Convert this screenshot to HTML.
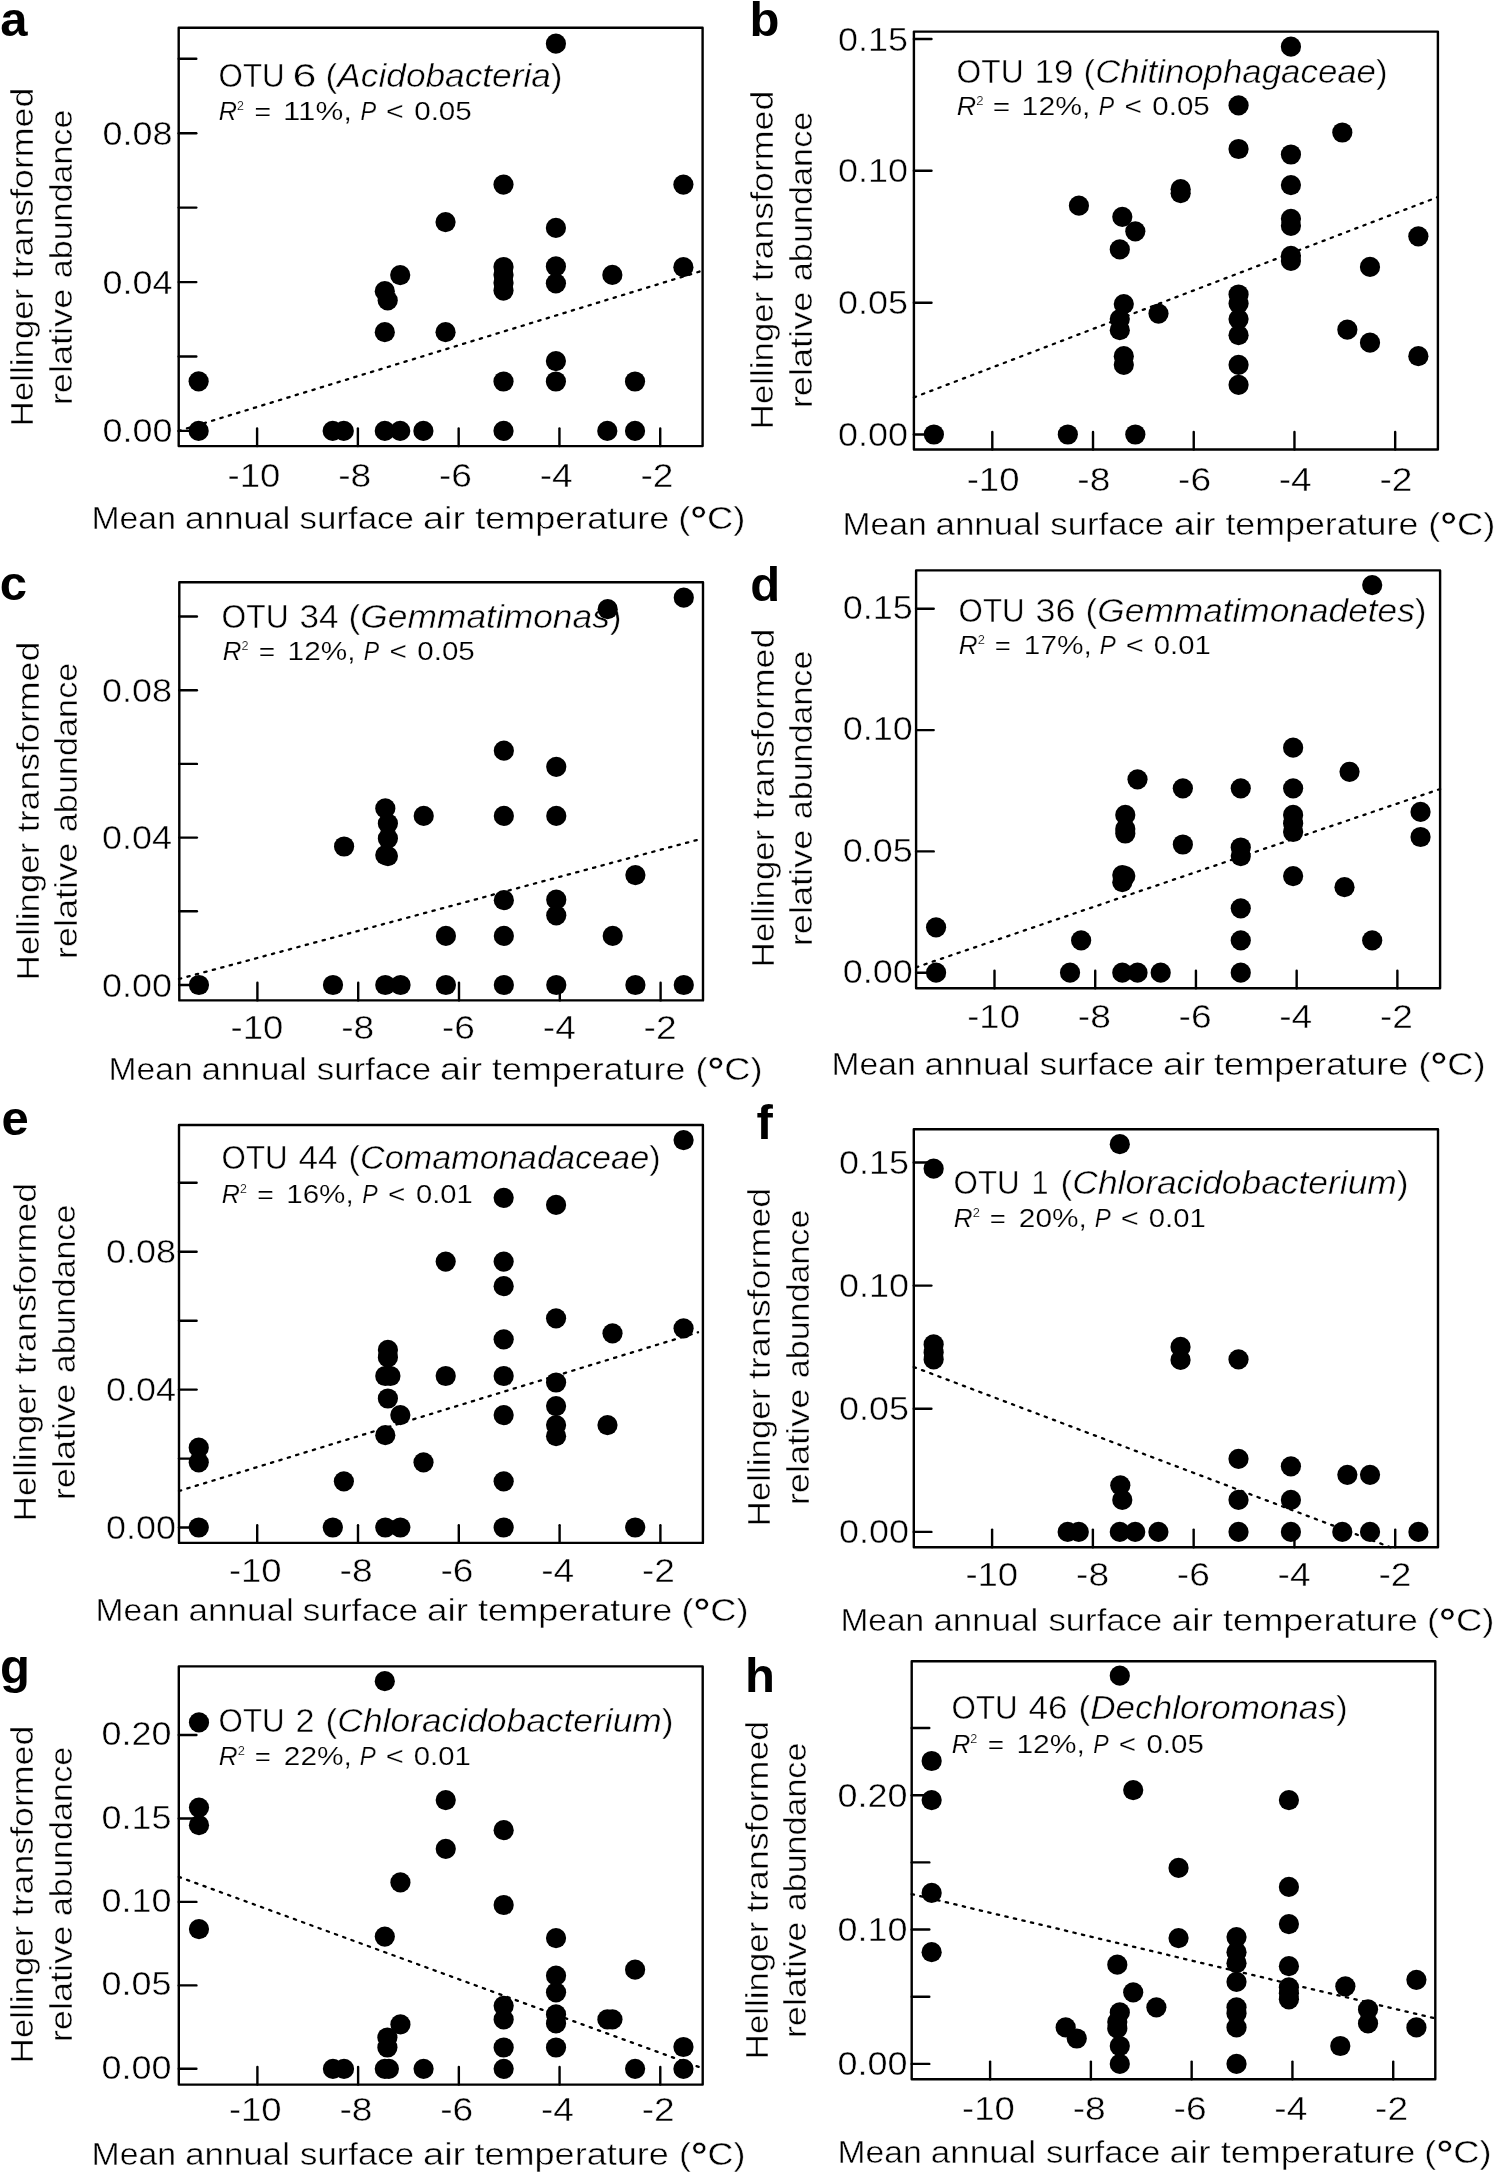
<!DOCTYPE html>
<html><head><meta charset="utf-8"><title>Figure</title>
<style>
html,body{margin:0;padding:0;background:#fff;-webkit-font-smoothing:antialiased;}
body{width:1495px;height:2172px;overflow:hidden;}
svg{display:block;will-change:transform;}
text{font-family:"Liberation Sans", sans-serif;fill:#000;stroke:#fff;stroke-width:0.45px;}
.ax{stroke:#000;stroke-width:2.4;fill:none;stroke-linejoin:round;stroke-linecap:round;}
.reg{stroke:#000;stroke-width:2.3;stroke-dasharray:2.3 6.45;stroke-linecap:round;fill:none;}
.tk{font-size:33.0px;}
.tt{font-size:32.5px;}
.st{font-size:25.4px;stroke-width:0.2px;}
.xl{font-size:32.0px;}
.yl{font-size:32.0px;}
.lt{font-size:49.0px;font-weight:bold;stroke:none;}
circle{fill:#000;}
</style></head>
<body><svg width="1495" height="2172" viewBox="0 0 1495 2172">
<rect x="0" y="0" width="1495" height="2172" fill="#fff"/>
<text x="218.6" y="87" class="tt" textLength="66" lengthAdjust="spacingAndGlyphs">OTU</text>
<text x="292.6" y="87" class="tt" textLength="24" lengthAdjust="spacingAndGlyphs">6</text>
<text x="325.6" y="87" class="tt" textLength="237" lengthAdjust="spacingAndGlyphs">(<tspan font-style="italic">Acidobacteria</tspan>)</text>
<text x="218.8" y="119.5" class="st" textLength="25.1" lengthAdjust="spacingAndGlyphs"><tspan font-style="italic">R</tspan><tspan font-size="12.5" dy="-9.5">2</tspan></text>
<text x="254.6" y="119.5" class="st" textLength="16.6" lengthAdjust="spacingAndGlyphs">=</text>
<text x="283" y="119.5" class="st" textLength="69" lengthAdjust="spacingAndGlyphs">11%,</text>
<text x="360.6" y="119.5" class="st" textLength="15.7" lengthAdjust="spacingAndGlyphs"><tspan font-style="italic">P</tspan></text>
<text x="385.9" y="119.5" class="st" textLength="17.7" lengthAdjust="spacingAndGlyphs">&lt;</text>
<text x="414.2" y="119.5" class="st" textLength="57.6" lengthAdjust="spacingAndGlyphs">0.05</text>
<text x="91.5" y="529.1" class="xl" textLength="84.4" lengthAdjust="spacingAndGlyphs">Mean</text>
<text x="184.9" y="529.1" class="xl" textLength="105.5" lengthAdjust="spacingAndGlyphs">annual</text>
<text x="299.5" y="529.1" class="xl" textLength="114.5" lengthAdjust="spacingAndGlyphs">surface</text>
<text x="423" y="529.1" class="xl" textLength="42.2" lengthAdjust="spacingAndGlyphs">air</text>
<text x="475.3" y="529.1" class="xl" textLength="193.9" lengthAdjust="spacingAndGlyphs">temperature</text>
<text x="678.2" y="529.1" class="xl" textLength="67.3" lengthAdjust="spacingAndGlyphs">(<tspan font-size="37" font-weight="bold" dy="3.2">°</tspan><tspan dy="-3.2">C</tspan>)</text>
<text transform="translate(33.1,0) rotate(-90)" x="-426.2" y="0" class="yl" textLength="137.5" lengthAdjust="spacingAndGlyphs">Hellinger</text>
<text transform="translate(33.1,0) rotate(-90)" x="-278.2" y="0" class="yl" textLength="190.5" lengthAdjust="spacingAndGlyphs">transformed</text>
<text transform="translate(71.9,0) rotate(-90)" x="-405.2" y="0" class="yl" textLength="116.5" lengthAdjust="spacingAndGlyphs">relative</text>
<text transform="translate(71.9,0) rotate(-90)" x="-278.2" y="0" class="yl" textLength="168.5" lengthAdjust="spacingAndGlyphs">abundance</text>
<text x="956.6" y="82.5" class="tt" textLength="67" lengthAdjust="spacingAndGlyphs">OTU</text>
<text x="1034.6" y="82.5" class="tt" textLength="39" lengthAdjust="spacingAndGlyphs">19</text>
<text x="1083.6" y="82.5" class="tt" textLength="304" lengthAdjust="spacingAndGlyphs">(<tspan font-style="italic">Chitinophagaceae</tspan>)</text>
<text x="956.8" y="114.7" class="st" textLength="26.7" lengthAdjust="spacingAndGlyphs"><tspan font-style="italic">R</tspan><tspan font-size="12.5" dy="-9.5">2</tspan></text>
<text x="992.8" y="114.7" class="st" textLength="17.4" lengthAdjust="spacingAndGlyphs">=</text>
<text x="1021.6" y="114.7" class="st" textLength="68.8" lengthAdjust="spacingAndGlyphs">12%,</text>
<text x="1098.8" y="114.7" class="st" textLength="15.4" lengthAdjust="spacingAndGlyphs"><tspan font-style="italic">P</tspan></text>
<text x="1124.5" y="114.7" class="st" textLength="17.4" lengthAdjust="spacingAndGlyphs">&lt;</text>
<text x="1152.3" y="114.7" class="st" textLength="57.5" lengthAdjust="spacingAndGlyphs">0.05</text>
<text x="842.5" y="534.7" class="xl" textLength="84.2" lengthAdjust="spacingAndGlyphs">Mean</text>
<text x="935.5" y="534.7" class="xl" textLength="104.9" lengthAdjust="spacingAndGlyphs">annual</text>
<text x="1050.3" y="534.7" class="xl" textLength="113.8" lengthAdjust="spacingAndGlyphs">surface</text>
<text x="1173.9" y="534.7" class="xl" textLength="41.6" lengthAdjust="spacingAndGlyphs">air</text>
<text x="1225.4" y="534.7" class="xl" textLength="192.9" lengthAdjust="spacingAndGlyphs">temperature</text>
<text x="1428.2" y="534.7" class="xl" textLength="67.3" lengthAdjust="spacingAndGlyphs">(<tspan font-size="37" font-weight="bold" dy="3.2">°</tspan><tspan dy="-3.2">C</tspan>)</text>
<text transform="translate(773,0) rotate(-90)" x="-429.2" y="0" class="yl" textLength="137.5" lengthAdjust="spacingAndGlyphs">Hellinger</text>
<text transform="translate(773,0) rotate(-90)" x="-281.2" y="0" class="yl" textLength="190.5" lengthAdjust="spacingAndGlyphs">transformed</text>
<text transform="translate(811.8,0) rotate(-90)" x="-408.2" y="0" class="yl" textLength="116.5" lengthAdjust="spacingAndGlyphs">relative</text>
<text transform="translate(811.8,0) rotate(-90)" x="-281.2" y="0" class="yl" textLength="169.5" lengthAdjust="spacingAndGlyphs">abundance</text>
<text x="221.6" y="627.5" class="tt" textLength="67" lengthAdjust="spacingAndGlyphs">OTU</text>
<text x="299.6" y="627.5" class="tt" textLength="39" lengthAdjust="spacingAndGlyphs">34</text>
<text x="348.6" y="627.5" class="tt" textLength="273" lengthAdjust="spacingAndGlyphs">(<tspan font-style="italic">Gemmatimonas</tspan>)</text>
<text x="222.8" y="659.7" class="st" textLength="25.7" lengthAdjust="spacingAndGlyphs"><tspan font-style="italic">R</tspan><tspan font-size="12.5" dy="-9.5">2</tspan></text>
<text x="258.8" y="659.7" class="st" textLength="16.4" lengthAdjust="spacingAndGlyphs">=</text>
<text x="287.6" y="659.7" class="st" textLength="67.8" lengthAdjust="spacingAndGlyphs">12%,</text>
<text x="363.8" y="659.7" class="st" textLength="15.4" lengthAdjust="spacingAndGlyphs"><tspan font-style="italic">P</tspan></text>
<text x="389.5" y="659.7" class="st" textLength="17.4" lengthAdjust="spacingAndGlyphs">&lt;</text>
<text x="417.3" y="659.7" class="st" textLength="57.5" lengthAdjust="spacingAndGlyphs">0.05</text>
<text x="108.5" y="1079.6" class="xl" textLength="84.1" lengthAdjust="spacingAndGlyphs">Mean</text>
<text x="201.6" y="1079.6" class="xl" textLength="105.2" lengthAdjust="spacingAndGlyphs">annual</text>
<text x="316.8" y="1079.6" class="xl" textLength="114.2" lengthAdjust="spacingAndGlyphs">surface</text>
<text x="440" y="1079.6" class="xl" textLength="42.1" lengthAdjust="spacingAndGlyphs">air</text>
<text x="492.1" y="1079.6" class="xl" textLength="193.3" lengthAdjust="spacingAndGlyphs">temperature</text>
<text x="695.4" y="1079.6" class="xl" textLength="67.1" lengthAdjust="spacingAndGlyphs">(<tspan font-size="37" font-weight="bold" dy="3.2">°</tspan><tspan dy="-3.2">C</tspan>)</text>
<text transform="translate(38.5,0) rotate(-90)" x="-980.2" y="0" class="yl" textLength="137.5" lengthAdjust="spacingAndGlyphs">Hellinger</text>
<text transform="translate(38.5,0) rotate(-90)" x="-832.2" y="0" class="yl" textLength="190.5" lengthAdjust="spacingAndGlyphs">transformed</text>
<text transform="translate(76.8,0) rotate(-90)" x="-959.2" y="0" class="yl" textLength="116.5" lengthAdjust="spacingAndGlyphs">relative</text>
<text transform="translate(76.8,0) rotate(-90)" x="-832.2" y="0" class="yl" textLength="169.5" lengthAdjust="spacingAndGlyphs">abundance</text>
<text x="958.6" y="621.5" class="tt" textLength="66" lengthAdjust="spacingAndGlyphs">OTU</text>
<text x="1035.6" y="621.5" class="tt" textLength="40" lengthAdjust="spacingAndGlyphs">36</text>
<text x="1085.6" y="621.5" class="tt" textLength="341" lengthAdjust="spacingAndGlyphs">(<tspan font-style="italic">Gemmatimonadetes</tspan>)</text>
<text x="958.8" y="653.6" class="st" textLength="26" lengthAdjust="spacingAndGlyphs"><tspan font-style="italic">R</tspan><tspan font-size="12.5" dy="-9.5">2</tspan></text>
<text x="994.8" y="653.6" class="st" textLength="16" lengthAdjust="spacingAndGlyphs">=</text>
<text x="1023.8" y="653.6" class="st" textLength="68" lengthAdjust="spacingAndGlyphs">17%,</text>
<text x="1099.8" y="653.6" class="st" textLength="16" lengthAdjust="spacingAndGlyphs"><tspan font-style="italic">P</tspan></text>
<text x="1125.8" y="653.6" class="st" textLength="18" lengthAdjust="spacingAndGlyphs">&lt;</text>
<text x="1153.8" y="653.6" class="st" textLength="57" lengthAdjust="spacingAndGlyphs">0.01</text>
<text x="831.5" y="1074.6" class="xl" textLength="84.1" lengthAdjust="spacingAndGlyphs">Mean</text>
<text x="924.6" y="1074.6" class="xl" textLength="105.2" lengthAdjust="spacingAndGlyphs">annual</text>
<text x="1039.8" y="1074.6" class="xl" textLength="114.2" lengthAdjust="spacingAndGlyphs">surface</text>
<text x="1163" y="1074.6" class="xl" textLength="42.1" lengthAdjust="spacingAndGlyphs">air</text>
<text x="1214.1" y="1074.6" class="xl" textLength="194.3" lengthAdjust="spacingAndGlyphs">temperature</text>
<text x="1418.4" y="1074.6" class="xl" textLength="67.1" lengthAdjust="spacingAndGlyphs">(<tspan font-size="37" font-weight="bold" dy="3.2">°</tspan><tspan dy="-3.2">C</tspan>)</text>
<text transform="translate(773.6,0) rotate(-90)" x="-967.2" y="0" class="yl" textLength="137.5" lengthAdjust="spacingAndGlyphs">Hellinger</text>
<text transform="translate(773.6,0) rotate(-90)" x="-819.2" y="0" class="yl" textLength="190.5" lengthAdjust="spacingAndGlyphs">transformed</text>
<text transform="translate(812.1,0) rotate(-90)" x="-946.2" y="0" class="yl" textLength="116.5" lengthAdjust="spacingAndGlyphs">relative</text>
<text transform="translate(812.1,0) rotate(-90)" x="-819.2" y="0" class="yl" textLength="168.5" lengthAdjust="spacingAndGlyphs">abundance</text>
<text x="221.6" y="1169.4" class="tt" textLength="66" lengthAdjust="spacingAndGlyphs">OTU</text>
<text x="298.6" y="1169.4" class="tt" textLength="39" lengthAdjust="spacingAndGlyphs">44</text>
<text x="348.6" y="1169.4" class="tt" textLength="312" lengthAdjust="spacingAndGlyphs">(<tspan font-style="italic">Comamonadaceae</tspan>)</text>
<text x="221.8" y="1202.5" class="st" textLength="25" lengthAdjust="spacingAndGlyphs"><tspan font-style="italic">R</tspan><tspan font-size="12.5" dy="-9.5">2</tspan></text>
<text x="257.3" y="1202.5" class="st" textLength="16.5" lengthAdjust="spacingAndGlyphs">=</text>
<text x="286.2" y="1202.5" class="st" textLength="67.5" lengthAdjust="spacingAndGlyphs">16%,</text>
<text x="362.2" y="1202.5" class="st" textLength="15.4" lengthAdjust="spacingAndGlyphs"><tspan font-style="italic">P</tspan></text>
<text x="388.1" y="1202.5" class="st" textLength="17.4" lengthAdjust="spacingAndGlyphs">&lt;</text>
<text x="416" y="1202.5" class="st" textLength="56.8" lengthAdjust="spacingAndGlyphs">0.01</text>
<text x="95.5" y="1620.9" class="xl" textLength="84.1" lengthAdjust="spacingAndGlyphs">Mean</text>
<text x="188.6" y="1620.9" class="xl" textLength="105.2" lengthAdjust="spacingAndGlyphs">annual</text>
<text x="302.8" y="1620.9" class="xl" textLength="115.2" lengthAdjust="spacingAndGlyphs">surface</text>
<text x="427" y="1620.9" class="xl" textLength="41.1" lengthAdjust="spacingAndGlyphs">air</text>
<text x="478.1" y="1620.9" class="xl" textLength="194.3" lengthAdjust="spacingAndGlyphs">temperature</text>
<text x="681.4" y="1620.9" class="xl" textLength="67.1" lengthAdjust="spacingAndGlyphs">(<tspan font-size="37" font-weight="bold" dy="3.2">°</tspan><tspan dy="-3.2">C</tspan>)</text>
<text transform="translate(36.1,0) rotate(-90)" x="-1521.2" y="0" class="yl" textLength="137.5" lengthAdjust="spacingAndGlyphs">Hellinger</text>
<text transform="translate(36.1,0) rotate(-90)" x="-1374.2" y="0" class="yl" textLength="191.5" lengthAdjust="spacingAndGlyphs">transformed</text>
<text transform="translate(75,0) rotate(-90)" x="-1500.2" y="0" class="yl" textLength="116.5" lengthAdjust="spacingAndGlyphs">relative</text>
<text transform="translate(75,0) rotate(-90)" x="-1373.2" y="0" class="yl" textLength="168.5" lengthAdjust="spacingAndGlyphs">abundance</text>
<text x="953.6" y="1194.4" class="tt" textLength="66" lengthAdjust="spacingAndGlyphs">OTU</text>
<text x="1031.6" y="1194.4" class="tt" textLength="17" lengthAdjust="spacingAndGlyphs">1</text>
<text x="1060.6" y="1194.4" class="tt" textLength="348" lengthAdjust="spacingAndGlyphs">(<tspan font-style="italic">Chloracidobacterium</tspan>)</text>
<text x="953.8" y="1226.9" class="st" textLength="26" lengthAdjust="spacingAndGlyphs"><tspan font-style="italic">R</tspan><tspan font-size="12.5" dy="-9.5">2</tspan></text>
<text x="989.8" y="1226.9" class="st" textLength="16" lengthAdjust="spacingAndGlyphs">=</text>
<text x="1018.8" y="1226.9" class="st" textLength="68" lengthAdjust="spacingAndGlyphs">20%,</text>
<text x="1094.8" y="1226.9" class="st" textLength="16" lengthAdjust="spacingAndGlyphs"><tspan font-style="italic">P</tspan></text>
<text x="1120.8" y="1226.9" class="st" textLength="18" lengthAdjust="spacingAndGlyphs">&lt;</text>
<text x="1148.8" y="1226.9" class="st" textLength="57" lengthAdjust="spacingAndGlyphs">0.01</text>
<text x="840.5" y="1630.9" class="xl" textLength="83.7" lengthAdjust="spacingAndGlyphs">Mean</text>
<text x="933.4" y="1630.9" class="xl" textLength="104.9" lengthAdjust="spacingAndGlyphs">annual</text>
<text x="1048.4" y="1630.9" class="xl" textLength="114" lengthAdjust="spacingAndGlyphs">surface</text>
<text x="1171.6" y="1630.9" class="xl" textLength="41.4" lengthAdjust="spacingAndGlyphs">air</text>
<text x="1223" y="1630.9" class="xl" textLength="194.8" lengthAdjust="spacingAndGlyphs">temperature</text>
<text x="1426.9" y="1630.9" class="xl" textLength="67.6" lengthAdjust="spacingAndGlyphs">(<tspan font-size="37" font-weight="bold" dy="3.2">°</tspan><tspan dy="-3.2">C</tspan>)</text>
<text transform="translate(770.3,0) rotate(-90)" x="-1526.2" y="0" class="yl" textLength="137.5" lengthAdjust="spacingAndGlyphs">Hellinger</text>
<text transform="translate(770.3,0) rotate(-90)" x="-1379.2" y="0" class="yl" textLength="191.5" lengthAdjust="spacingAndGlyphs">transformed</text>
<text transform="translate(808.5,0) rotate(-90)" x="-1505.2" y="0" class="yl" textLength="116.5" lengthAdjust="spacingAndGlyphs">relative</text>
<text transform="translate(808.5,0) rotate(-90)" x="-1378.2" y="0" class="yl" textLength="168.5" lengthAdjust="spacingAndGlyphs">abundance</text>
<text x="218.6" y="1732.4" class="tt" textLength="66" lengthAdjust="spacingAndGlyphs">OTU</text>
<text x="295.6" y="1732.4" class="tt" textLength="19" lengthAdjust="spacingAndGlyphs">2</text>
<text x="325.6" y="1732.4" class="tt" textLength="348" lengthAdjust="spacingAndGlyphs">(<tspan font-style="italic">Chloracidobacterium</tspan>)</text>
<text x="218.8" y="1764.5" class="st" textLength="26" lengthAdjust="spacingAndGlyphs"><tspan font-style="italic">R</tspan><tspan font-size="12.5" dy="-9.5">2</tspan></text>
<text x="254.8" y="1764.5" class="st" textLength="16" lengthAdjust="spacingAndGlyphs">=</text>
<text x="283.8" y="1764.5" class="st" textLength="68" lengthAdjust="spacingAndGlyphs">22%,</text>
<text x="359.8" y="1764.5" class="st" textLength="16" lengthAdjust="spacingAndGlyphs"><tspan font-style="italic">P</tspan></text>
<text x="385.8" y="1764.5" class="st" textLength="18" lengthAdjust="spacingAndGlyphs">&lt;</text>
<text x="413.8" y="1764.5" class="st" textLength="57" lengthAdjust="spacingAndGlyphs">0.01</text>
<text x="91.5" y="2165" class="xl" textLength="84.6" lengthAdjust="spacingAndGlyphs">Mean</text>
<text x="185.2" y="2165" class="xl" textLength="104.8" lengthAdjust="spacingAndGlyphs">annual</text>
<text x="300.1" y="2165" class="xl" textLength="113.9" lengthAdjust="spacingAndGlyphs">surface</text>
<text x="423" y="2165" class="xl" textLength="42.3" lengthAdjust="spacingAndGlyphs">air</text>
<text x="474.4" y="2165" class="xl" textLength="194.5" lengthAdjust="spacingAndGlyphs">temperature</text>
<text x="679" y="2165" class="xl" textLength="66.5" lengthAdjust="spacingAndGlyphs">(<tspan font-size="37" font-weight="bold" dy="3.2">°</tspan><tspan dy="-3.2">C</tspan>)</text>
<text transform="translate(33.1,0) rotate(-90)" x="-2063.2" y="0" class="yl" textLength="137.5" lengthAdjust="spacingAndGlyphs">Hellinger</text>
<text transform="translate(33.1,0) rotate(-90)" x="-1916.2" y="0" class="yl" textLength="190.5" lengthAdjust="spacingAndGlyphs">transformed</text>
<text transform="translate(71.9,0) rotate(-90)" x="-2042.2" y="0" class="yl" textLength="116.5" lengthAdjust="spacingAndGlyphs">relative</text>
<text transform="translate(71.9,0) rotate(-90)" x="-1916.2" y="0" class="yl" textLength="169.5" lengthAdjust="spacingAndGlyphs">abundance</text>
<text x="951.6" y="1719.4" class="tt" textLength="66" lengthAdjust="spacingAndGlyphs">OTU</text>
<text x="1028.6" y="1719.4" class="tt" textLength="39" lengthAdjust="spacingAndGlyphs">46</text>
<text x="1078.6" y="1719.4" class="tt" textLength="269" lengthAdjust="spacingAndGlyphs">(<tspan font-style="italic">Dechloromonas</tspan>)</text>
<text x="951.8" y="1752.5" class="st" textLength="25.6" lengthAdjust="spacingAndGlyphs"><tspan font-style="italic">R</tspan><tspan font-size="12.5" dy="-9.5">2</tspan></text>
<text x="987.7" y="1752.5" class="st" textLength="16.3" lengthAdjust="spacingAndGlyphs">=</text>
<text x="1016.4" y="1752.5" class="st" textLength="68.5" lengthAdjust="spacingAndGlyphs">12%,</text>
<text x="1093.2" y="1752.5" class="st" textLength="15.4" lengthAdjust="spacingAndGlyphs"><tspan font-style="italic">P</tspan></text>
<text x="1118.8" y="1752.5" class="st" textLength="17.3" lengthAdjust="spacingAndGlyphs">&lt;</text>
<text x="1146.5" y="1752.5" class="st" textLength="57.3" lengthAdjust="spacingAndGlyphs">0.05</text>
<text x="837.5" y="2162.7" class="xl" textLength="84.2" lengthAdjust="spacingAndGlyphs">Mean</text>
<text x="930.8" y="2162.7" class="xl" textLength="105.3" lengthAdjust="spacingAndGlyphs">annual</text>
<text x="1046.1" y="2162.7" class="xl" textLength="114.3" lengthAdjust="spacingAndGlyphs">surface</text>
<text x="1169.5" y="2162.7" class="xl" textLength="41.1" lengthAdjust="spacingAndGlyphs">air</text>
<text x="1220.7" y="2162.7" class="xl" textLength="194.6" lengthAdjust="spacingAndGlyphs">temperature</text>
<text x="1424.3" y="2162.7" class="xl" textLength="67.2" lengthAdjust="spacingAndGlyphs">(<tspan font-size="37" font-weight="bold" dy="3.2">°</tspan><tspan dy="-3.2">C</tspan>)</text>
<text transform="translate(767.6,0) rotate(-90)" x="-2059.2" y="0" class="yl" textLength="137.5" lengthAdjust="spacingAndGlyphs">Hellinger</text>
<text transform="translate(767.6,0) rotate(-90)" x="-1912.2" y="0" class="yl" textLength="191.5" lengthAdjust="spacingAndGlyphs">transformed</text>
<text transform="translate(806.4,0) rotate(-90)" x="-2038.2" y="0" class="yl" textLength="116.5" lengthAdjust="spacingAndGlyphs">relative</text>
<text transform="translate(806.4,0) rotate(-90)" x="-1911.2" y="0" class="yl" textLength="168.5" lengthAdjust="spacingAndGlyphs">abundance</text>
<line x1="178.6" y1="431" x2="702" y2="270.8" class="reg"/>
<line x1="178.7" y1="58.8" x2="196.3" y2="58.8" class="ax"/>
<line x1="178.7" y1="133.2" x2="196.3" y2="133.2" class="ax"/>
<text x="172.4" y="144.7" class="tk" text-anchor="end" textLength="70" lengthAdjust="spacingAndGlyphs">0.08</text>
<line x1="178.7" y1="207.6" x2="196.3" y2="207.6" class="ax"/>
<line x1="178.7" y1="282.1" x2="196.3" y2="282.1" class="ax"/>
<text x="172.4" y="293.6" class="tk" text-anchor="end" textLength="70" lengthAdjust="spacingAndGlyphs">0.04</text>
<line x1="178.7" y1="356.5" x2="196.3" y2="356.5" class="ax"/>
<line x1="178.7" y1="430.9" x2="196.3" y2="430.9" class="ax"/>
<text x="172.4" y="442.4" class="tk" text-anchor="end" textLength="70" lengthAdjust="spacingAndGlyphs">0.00</text>
<line x1="257.1" y1="446.1" x2="257.1" y2="428.5" class="ax"/>
<text x="253.9" y="486.5" class="tk" text-anchor="middle" textLength="52.8" lengthAdjust="spacingAndGlyphs">-10</text>
<line x1="357.88" y1="446.1" x2="357.88" y2="428.5" class="ax"/>
<text x="354.68" y="486.5" class="tk" text-anchor="middle" textLength="33" lengthAdjust="spacingAndGlyphs">-8</text>
<line x1="458.66" y1="446.1" x2="458.66" y2="428.5" class="ax"/>
<text x="455.46" y="486.5" class="tk" text-anchor="middle" textLength="33" lengthAdjust="spacingAndGlyphs">-6</text>
<line x1="559.44" y1="446.1" x2="559.44" y2="428.5" class="ax"/>
<text x="556.24" y="486.5" class="tk" text-anchor="middle" textLength="33" lengthAdjust="spacingAndGlyphs">-4</text>
<line x1="660.22" y1="446.1" x2="660.22" y2="428.5" class="ax"/>
<text x="657.02" y="486.5" class="tk" text-anchor="middle" textLength="33" lengthAdjust="spacingAndGlyphs">-2</text>
<rect x="178.7" y="27.7" width="523.9" height="418.4" class="ax" fill="none"/>
<circle cx="198.65" cy="430.9" r="10.1"/>
<circle cx="198.65" cy="381.3" r="10.1"/>
<circle cx="332.69" cy="430.9" r="10.1"/>
<circle cx="343.77" cy="430.9" r="10.1"/>
<circle cx="384.8" cy="291.2" r="10.1"/>
<circle cx="387.7" cy="300.4" r="10.1"/>
<circle cx="384.8" cy="332.2" r="10.1"/>
<circle cx="384.8" cy="430.9" r="10.1"/>
<circle cx="400.21" cy="275.1" r="10.1"/>
<circle cx="400.21" cy="430.9" r="10.1"/>
<circle cx="423.39" cy="430.9" r="10.1"/>
<circle cx="445.56" cy="222.1" r="10.1"/>
<circle cx="445.56" cy="332.2" r="10.1"/>
<circle cx="503.51" cy="184.6" r="10.1"/>
<circle cx="503.51" cy="267" r="10.1"/>
<circle cx="503.51" cy="275" r="10.1"/>
<circle cx="503.51" cy="283" r="10.1"/>
<circle cx="503.51" cy="290.6" r="10.1"/>
<circle cx="503.51" cy="381.5" r="10.1"/>
<circle cx="503.51" cy="430.9" r="10.1"/>
<circle cx="555.91" cy="43.7" r="10.1"/>
<circle cx="555.91" cy="227.9" r="10.1"/>
<circle cx="555.91" cy="266.4" r="10.1"/>
<circle cx="555.91" cy="283.3" r="10.1"/>
<circle cx="555.91" cy="361.1" r="10.1"/>
<circle cx="555.91" cy="381.5" r="10.1"/>
<circle cx="607.31" cy="430.9" r="10.1"/>
<circle cx="612.35" cy="274.9" r="10.1"/>
<circle cx="635.03" cy="381.5" r="10.1"/>
<circle cx="635.03" cy="430.9" r="10.1"/>
<circle cx="683.4" cy="184.6" r="10.1"/>
<circle cx="683.4" cy="267.2" r="10.1"/>
<text x="0.3" y="36.3" class="lt">a</text>
<line x1="913.9" y1="397.4" x2="1437.8" y2="197.1" class="reg"/>
<line x1="913.9" y1="39" x2="931.5" y2="39" class="ax"/>
<text x="907.9" y="50.5" class="tk" text-anchor="end" textLength="70" lengthAdjust="spacingAndGlyphs">0.15</text>
<line x1="913.9" y1="170.8" x2="931.5" y2="170.8" class="ax"/>
<text x="907.9" y="182.3" class="tk" text-anchor="end" textLength="70" lengthAdjust="spacingAndGlyphs">0.10</text>
<line x1="913.9" y1="302.7" x2="931.5" y2="302.7" class="ax"/>
<text x="907.9" y="314.2" class="tk" text-anchor="end" textLength="70" lengthAdjust="spacingAndGlyphs">0.05</text>
<line x1="913.9" y1="434.5" x2="931.5" y2="434.5" class="ax"/>
<text x="907.9" y="446" class="tk" text-anchor="end" textLength="70" lengthAdjust="spacingAndGlyphs">0.00</text>
<line x1="992.3" y1="449.5" x2="992.3" y2="431.9" class="ax"/>
<text x="993.1" y="490.5" class="tk" text-anchor="middle" textLength="52.8" lengthAdjust="spacingAndGlyphs">-10</text>
<line x1="1093.02" y1="449.5" x2="1093.02" y2="431.9" class="ax"/>
<text x="1093.82" y="490.5" class="tk" text-anchor="middle" textLength="33" lengthAdjust="spacingAndGlyphs">-8</text>
<line x1="1193.74" y1="449.5" x2="1193.74" y2="431.9" class="ax"/>
<text x="1194.54" y="490.5" class="tk" text-anchor="middle" textLength="33" lengthAdjust="spacingAndGlyphs">-6</text>
<line x1="1294.46" y1="449.5" x2="1294.46" y2="431.9" class="ax"/>
<text x="1295.26" y="490.5" class="tk" text-anchor="middle" textLength="33" lengthAdjust="spacingAndGlyphs">-4</text>
<line x1="1395.18" y1="449.5" x2="1395.18" y2="431.9" class="ax"/>
<text x="1395.98" y="490.5" class="tk" text-anchor="middle" textLength="33" lengthAdjust="spacingAndGlyphs">-2</text>
<rect x="913.9" y="31.6" width="524" height="417.9" class="ax" fill="none"/>
<circle cx="933.88" cy="434.5" r="10.1"/>
<circle cx="1067.84" cy="434.5" r="10.1"/>
<circle cx="1078.92" cy="205.7" r="10.1"/>
<circle cx="1122.3" cy="216.8" r="10.1"/>
<circle cx="1119.8" cy="249.4" r="10.1"/>
<circle cx="1123.8" cy="304.1" r="10.1"/>
<circle cx="1119.8" cy="319.1" r="10.1"/>
<circle cx="1119.8" cy="330.2" r="10.1"/>
<circle cx="1123.8" cy="356.2" r="10.1"/>
<circle cx="1123.8" cy="364.8" r="10.1"/>
<circle cx="1135.32" cy="231.3" r="10.1"/>
<circle cx="1135.32" cy="434.5" r="10.1"/>
<circle cx="1158.49" cy="313.6" r="10.1"/>
<circle cx="1180.65" cy="189.2" r="10.1"/>
<circle cx="1180.65" cy="193.2" r="10.1"/>
<circle cx="1238.56" cy="105.4" r="10.1"/>
<circle cx="1238.56" cy="149" r="10.1"/>
<circle cx="1238.56" cy="294.5" r="10.1"/>
<circle cx="1238.56" cy="303.6" r="10.1"/>
<circle cx="1238.56" cy="319.1" r="10.1"/>
<circle cx="1238.56" cy="335.2" r="10.1"/>
<circle cx="1238.56" cy="364.8" r="10.1"/>
<circle cx="1238.56" cy="384.8" r="10.1"/>
<circle cx="1290.93" cy="46.7" r="10.1"/>
<circle cx="1290.93" cy="154.5" r="10.1"/>
<circle cx="1290.93" cy="185.1" r="10.1"/>
<circle cx="1290.93" cy="218.8" r="10.1"/>
<circle cx="1290.93" cy="225.8" r="10.1"/>
<circle cx="1290.93" cy="255.9" r="10.1"/>
<circle cx="1290.93" cy="260.9" r="10.1"/>
<circle cx="1342.3" cy="132.5" r="10.1"/>
<circle cx="1347.34" cy="329.7" r="10.1"/>
<circle cx="1370" cy="266.9" r="10.1"/>
<circle cx="1370" cy="342.7" r="10.1"/>
<circle cx="1418.35" cy="236.3" r="10.1"/>
<circle cx="1418.35" cy="356.2" r="10.1"/>
<text x="749.5" y="36.3" class="lt">b</text>
<line x1="179" y1="979" x2="702.5" y2="838.5" class="reg"/>
<line x1="179.3" y1="616.5" x2="196.9" y2="616.5" class="ax"/>
<line x1="179.3" y1="690.2" x2="196.9" y2="690.2" class="ax"/>
<text x="172.1" y="701.7" class="tk" text-anchor="end" textLength="70" lengthAdjust="spacingAndGlyphs">0.08</text>
<line x1="179.3" y1="763.9" x2="196.9" y2="763.9" class="ax"/>
<line x1="179.3" y1="837.6" x2="196.9" y2="837.6" class="ax"/>
<text x="172.1" y="849.1" class="tk" text-anchor="end" textLength="70" lengthAdjust="spacingAndGlyphs">0.04</text>
<line x1="179.3" y1="911.3" x2="196.9" y2="911.3" class="ax"/>
<line x1="179.3" y1="985" x2="196.9" y2="985" class="ax"/>
<text x="172.1" y="996.5" class="tk" text-anchor="end" textLength="70" lengthAdjust="spacingAndGlyphs">0.00</text>
<line x1="257.4" y1="1000.4" x2="257.4" y2="982.8" class="ax"/>
<text x="256.9" y="1038.9" class="tk" text-anchor="middle" textLength="52.8" lengthAdjust="spacingAndGlyphs">-10</text>
<line x1="358.2" y1="1000.4" x2="358.2" y2="982.8" class="ax"/>
<text x="357.7" y="1038.9" class="tk" text-anchor="middle" textLength="33" lengthAdjust="spacingAndGlyphs">-8</text>
<line x1="459" y1="1000.4" x2="459" y2="982.8" class="ax"/>
<text x="458.5" y="1038.9" class="tk" text-anchor="middle" textLength="33" lengthAdjust="spacingAndGlyphs">-6</text>
<line x1="559.8" y1="1000.4" x2="559.8" y2="982.8" class="ax"/>
<text x="559.3" y="1038.9" class="tk" text-anchor="middle" textLength="33" lengthAdjust="spacingAndGlyphs">-4</text>
<line x1="660.6" y1="1000.4" x2="660.6" y2="982.8" class="ax"/>
<text x="660.1" y="1038.9" class="tk" text-anchor="middle" textLength="33" lengthAdjust="spacingAndGlyphs">-2</text>
<rect x="179.3" y="582.2" width="523.7" height="418.2" class="ax" fill="none"/>
<circle cx="198.94" cy="985" r="10.1"/>
<circle cx="333" cy="985" r="10.1"/>
<circle cx="344.09" cy="846.5" r="10.1"/>
<circle cx="385.3" cy="808.4" r="10.1"/>
<circle cx="387.9" cy="823.5" r="10.1"/>
<circle cx="387.9" cy="838.5" r="10.1"/>
<circle cx="385.3" cy="855.1" r="10.1"/>
<circle cx="387.9" cy="856.1" r="10.1"/>
<circle cx="385.3" cy="985" r="10.1"/>
<circle cx="400.54" cy="985" r="10.1"/>
<circle cx="423.72" cy="815.9" r="10.1"/>
<circle cx="445.9" cy="935.9" r="10.1"/>
<circle cx="445.9" cy="985" r="10.1"/>
<circle cx="503.86" cy="750.7" r="10.1"/>
<circle cx="503.86" cy="815.9" r="10.1"/>
<circle cx="503.86" cy="900.2" r="10.1"/>
<circle cx="503.86" cy="935.9" r="10.1"/>
<circle cx="503.86" cy="985" r="10.1"/>
<circle cx="556.27" cy="766.8" r="10.1"/>
<circle cx="556.27" cy="815.9" r="10.1"/>
<circle cx="556.27" cy="899.7" r="10.1"/>
<circle cx="556.27" cy="915.3" r="10.1"/>
<circle cx="556.27" cy="985" r="10.1"/>
<circle cx="607.68" cy="609.2" r="10.1"/>
<circle cx="612.72" cy="935.9" r="10.1"/>
<circle cx="635.4" cy="875.1" r="10.1"/>
<circle cx="635.4" cy="985" r="10.1"/>
<circle cx="683.78" cy="597.7" r="10.1"/>
<circle cx="683.78" cy="985" r="10.1"/>
<text x="-0.2" y="599.5" class="lt">c</text>
<line x1="916.1" y1="967.3" x2="1440.1" y2="789" class="reg"/>
<line x1="916.1" y1="608.8" x2="933.7" y2="608.8" class="ax"/>
<text x="912.7" y="619.1" class="tk" text-anchor="end" textLength="70" lengthAdjust="spacingAndGlyphs">0.15</text>
<line x1="916.1" y1="730.1" x2="933.7" y2="730.1" class="ax"/>
<text x="912.7" y="740.4" class="tk" text-anchor="end" textLength="70" lengthAdjust="spacingAndGlyphs">0.10</text>
<line x1="916.1" y1="851.4" x2="933.7" y2="851.4" class="ax"/>
<text x="912.7" y="861.7" class="tk" text-anchor="end" textLength="70" lengthAdjust="spacingAndGlyphs">0.05</text>
<line x1="916.1" y1="972.7" x2="933.7" y2="972.7" class="ax"/>
<text x="912.7" y="983" class="tk" text-anchor="end" textLength="70" lengthAdjust="spacingAndGlyphs">0.00</text>
<line x1="994.5" y1="988.3" x2="994.5" y2="970.7" class="ax"/>
<text x="993.6" y="1028.3" class="tk" text-anchor="middle" textLength="52.8" lengthAdjust="spacingAndGlyphs">-10</text>
<line x1="1095.22" y1="988.3" x2="1095.22" y2="970.7" class="ax"/>
<text x="1094.32" y="1028.3" class="tk" text-anchor="middle" textLength="33" lengthAdjust="spacingAndGlyphs">-8</text>
<line x1="1195.94" y1="988.3" x2="1195.94" y2="970.7" class="ax"/>
<text x="1195.04" y="1028.3" class="tk" text-anchor="middle" textLength="33" lengthAdjust="spacingAndGlyphs">-6</text>
<line x1="1296.66" y1="988.3" x2="1296.66" y2="970.7" class="ax"/>
<text x="1295.76" y="1028.3" class="tk" text-anchor="middle" textLength="33" lengthAdjust="spacingAndGlyphs">-4</text>
<line x1="1397.38" y1="988.3" x2="1397.38" y2="970.7" class="ax"/>
<text x="1396.48" y="1028.3" class="tk" text-anchor="middle" textLength="33" lengthAdjust="spacingAndGlyphs">-2</text>
<rect x="916.1" y="570.4" width="524" height="417.9" class="ax" fill="none"/>
<circle cx="936.08" cy="927.3" r="10.1"/>
<circle cx="936.08" cy="972.7" r="10.1"/>
<circle cx="1070.04" cy="972.7" r="10.1"/>
<circle cx="1081.12" cy="940.4" r="10.1"/>
<circle cx="1125.3" cy="814.9" r="10.1"/>
<circle cx="1125.3" cy="829" r="10.1"/>
<circle cx="1125.3" cy="833.5" r="10.1"/>
<circle cx="1122.3" cy="875.1" r="10.1"/>
<circle cx="1125.3" cy="876.1" r="10.1"/>
<circle cx="1122.3" cy="882.2" r="10.1"/>
<circle cx="1122.3" cy="972.7" r="10.1"/>
<circle cx="1137.52" cy="779.3" r="10.1"/>
<circle cx="1137.52" cy="972.7" r="10.1"/>
<circle cx="1160.69" cy="972.7" r="10.1"/>
<circle cx="1182.85" cy="788.3" r="10.1"/>
<circle cx="1182.85" cy="844.5" r="10.1"/>
<circle cx="1240.76" cy="788.3" r="10.1"/>
<circle cx="1240.76" cy="847.5" r="10.1"/>
<circle cx="1240.76" cy="856.1" r="10.1"/>
<circle cx="1240.76" cy="908.3" r="10.1"/>
<circle cx="1240.76" cy="940.4" r="10.1"/>
<circle cx="1240.76" cy="972.7" r="10.1"/>
<circle cx="1293.13" cy="747.7" r="10.1"/>
<circle cx="1293.13" cy="788.3" r="10.1"/>
<circle cx="1293.13" cy="814.9" r="10.1"/>
<circle cx="1293.13" cy="823.5" r="10.1"/>
<circle cx="1293.13" cy="832" r="10.1"/>
<circle cx="1293.13" cy="876.1" r="10.1"/>
<circle cx="1349.54" cy="771.8" r="10.1"/>
<circle cx="1344.5" cy="887.2" r="10.1"/>
<circle cx="1372.2" cy="585.1" r="10.1"/>
<circle cx="1372.2" cy="940.4" r="10.1"/>
<circle cx="1420.55" cy="811.9" r="10.1"/>
<circle cx="1420.55" cy="837" r="10.1"/>
<text x="750.3" y="601" class="lt">d</text>
<line x1="179" y1="1491" x2="698" y2="1332.3" class="reg"/>
<line x1="179" y1="1182.8" x2="196.6" y2="1182.8" class="ax"/>
<line x1="179" y1="1251.7" x2="196.6" y2="1251.7" class="ax"/>
<text x="175.9" y="1263.2" class="tk" text-anchor="end" textLength="70" lengthAdjust="spacingAndGlyphs">0.08</text>
<line x1="179" y1="1320.7" x2="196.6" y2="1320.7" class="ax"/>
<line x1="179" y1="1389.6" x2="196.6" y2="1389.6" class="ax"/>
<text x="175.9" y="1401.1" class="tk" text-anchor="end" textLength="70" lengthAdjust="spacingAndGlyphs">0.04</text>
<line x1="179" y1="1458.6" x2="196.6" y2="1458.6" class="ax"/>
<line x1="179" y1="1527.5" x2="196.6" y2="1527.5" class="ax"/>
<text x="175.9" y="1539" class="tk" text-anchor="end" textLength="70" lengthAdjust="spacingAndGlyphs">0.00</text>
<line x1="257.2" y1="1542.9" x2="257.2" y2="1525.3" class="ax"/>
<text x="255.3" y="1581.5" class="tk" text-anchor="middle" textLength="52.8" lengthAdjust="spacingAndGlyphs">-10</text>
<line x1="358" y1="1542.9" x2="358" y2="1525.3" class="ax"/>
<text x="356.1" y="1581.5" class="tk" text-anchor="middle" textLength="33" lengthAdjust="spacingAndGlyphs">-8</text>
<line x1="458.8" y1="1542.9" x2="458.8" y2="1525.3" class="ax"/>
<text x="456.9" y="1581.5" class="tk" text-anchor="middle" textLength="33" lengthAdjust="spacingAndGlyphs">-6</text>
<line x1="559.6" y1="1542.9" x2="559.6" y2="1525.3" class="ax"/>
<text x="557.7" y="1581.5" class="tk" text-anchor="middle" textLength="33" lengthAdjust="spacingAndGlyphs">-4</text>
<line x1="660.4" y1="1542.9" x2="660.4" y2="1525.3" class="ax"/>
<text x="658.5" y="1581.5" class="tk" text-anchor="middle" textLength="33" lengthAdjust="spacingAndGlyphs">-2</text>
<rect x="179" y="1125" width="523.9" height="417.9" class="ax" fill="none"/>
<circle cx="198.74" cy="1447.7" r="10.1"/>
<circle cx="198.74" cy="1462.3" r="10.1"/>
<circle cx="198.74" cy="1527.5" r="10.1"/>
<circle cx="332.8" cy="1527.5" r="10.1"/>
<circle cx="343.89" cy="1481.3" r="10.1"/>
<circle cx="387.9" cy="1349.9" r="10.1"/>
<circle cx="387.9" cy="1357.4" r="10.1"/>
<circle cx="385.3" cy="1376" r="10.1"/>
<circle cx="390.4" cy="1376" r="10.1"/>
<circle cx="387.9" cy="1398.5" r="10.1"/>
<circle cx="385.3" cy="1435.2" r="10.1"/>
<circle cx="385.3" cy="1527.5" r="10.1"/>
<circle cx="400.34" cy="1415.1" r="10.1"/>
<circle cx="400.34" cy="1527.5" r="10.1"/>
<circle cx="423.52" cy="1462.3" r="10.1"/>
<circle cx="445.7" cy="1261.6" r="10.1"/>
<circle cx="445.7" cy="1376" r="10.1"/>
<circle cx="503.66" cy="1197.8" r="10.1"/>
<circle cx="503.66" cy="1261.6" r="10.1"/>
<circle cx="503.66" cy="1286.2" r="10.1"/>
<circle cx="503.66" cy="1339.3" r="10.1"/>
<circle cx="503.66" cy="1376" r="10.1"/>
<circle cx="503.66" cy="1415.1" r="10.1"/>
<circle cx="503.66" cy="1481.3" r="10.1"/>
<circle cx="503.66" cy="1527.5" r="10.1"/>
<circle cx="556.07" cy="1204.9" r="10.1"/>
<circle cx="556.07" cy="1318.3" r="10.1"/>
<circle cx="556.07" cy="1382.5" r="10.1"/>
<circle cx="556.07" cy="1406.1" r="10.1"/>
<circle cx="556.07" cy="1425.1" r="10.1"/>
<circle cx="556.07" cy="1436.2" r="10.1"/>
<circle cx="607.48" cy="1425.1" r="10.1"/>
<circle cx="612.52" cy="1333.3" r="10.1"/>
<circle cx="635.2" cy="1527.5" r="10.1"/>
<circle cx="683.58" cy="1140.1" r="10.1"/>
<circle cx="683.58" cy="1328.3" r="10.1"/>
<text x="1.5" y="1135.4" class="lt">e</text>
<line x1="913.8" y1="1367" x2="1395" y2="1549" class="reg"/>
<line x1="913.8" y1="1162.5" x2="931.4" y2="1162.5" class="ax"/>
<text x="909" y="1174" class="tk" text-anchor="end" textLength="70" lengthAdjust="spacingAndGlyphs">0.15</text>
<line x1="913.8" y1="1285.6" x2="931.4" y2="1285.6" class="ax"/>
<text x="909" y="1297.1" class="tk" text-anchor="end" textLength="70" lengthAdjust="spacingAndGlyphs">0.10</text>
<line x1="913.8" y1="1408.8" x2="931.4" y2="1408.8" class="ax"/>
<text x="909" y="1420.3" class="tk" text-anchor="end" textLength="70" lengthAdjust="spacingAndGlyphs">0.05</text>
<line x1="913.8" y1="1531.9" x2="931.4" y2="1531.9" class="ax"/>
<text x="909" y="1543.4" class="tk" text-anchor="end" textLength="70" lengthAdjust="spacingAndGlyphs">0.00</text>
<line x1="992.1" y1="1547.2" x2="992.1" y2="1529.6" class="ax"/>
<text x="991.8" y="1585.7" class="tk" text-anchor="middle" textLength="52.8" lengthAdjust="spacingAndGlyphs">-10</text>
<line x1="1092.88" y1="1547.2" x2="1092.88" y2="1529.6" class="ax"/>
<text x="1092.58" y="1585.7" class="tk" text-anchor="middle" textLength="33" lengthAdjust="spacingAndGlyphs">-8</text>
<line x1="1193.66" y1="1547.2" x2="1193.66" y2="1529.6" class="ax"/>
<text x="1193.36" y="1585.7" class="tk" text-anchor="middle" textLength="33" lengthAdjust="spacingAndGlyphs">-6</text>
<line x1="1294.44" y1="1547.2" x2="1294.44" y2="1529.6" class="ax"/>
<text x="1294.14" y="1585.7" class="tk" text-anchor="middle" textLength="33" lengthAdjust="spacingAndGlyphs">-4</text>
<line x1="1395.22" y1="1547.2" x2="1395.22" y2="1529.6" class="ax"/>
<text x="1394.92" y="1585.7" class="tk" text-anchor="middle" textLength="33" lengthAdjust="spacingAndGlyphs">-2</text>
<rect x="913.8" y="1129.3" width="524.2" height="417.9" class="ax" fill="none"/>
<circle cx="933.65" cy="1168.7" r="10.1"/>
<circle cx="933.65" cy="1344.4" r="10.1"/>
<circle cx="933.65" cy="1352.4" r="10.1"/>
<circle cx="933.65" cy="1359.4" r="10.1"/>
<circle cx="1067.68" cy="1531.9" r="10.1"/>
<circle cx="1078.77" cy="1531.9" r="10.1"/>
<circle cx="1119.8" cy="1144.2" r="10.1"/>
<circle cx="1120.3" cy="1485.3" r="10.1"/>
<circle cx="1122.3" cy="1499.9" r="10.1"/>
<circle cx="1119.8" cy="1531.9" r="10.1"/>
<circle cx="1135.21" cy="1531.9" r="10.1"/>
<circle cx="1158.39" cy="1531.9" r="10.1"/>
<circle cx="1180.56" cy="1346.9" r="10.1"/>
<circle cx="1180.56" cy="1359.9" r="10.1"/>
<circle cx="1238.51" cy="1359.4" r="10.1"/>
<circle cx="1238.51" cy="1458.8" r="10.1"/>
<circle cx="1238.51" cy="1499.9" r="10.1"/>
<circle cx="1238.51" cy="1531.9" r="10.1"/>
<circle cx="1290.91" cy="1466.3" r="10.1"/>
<circle cx="1290.91" cy="1499.9" r="10.1"/>
<circle cx="1290.91" cy="1531.9" r="10.1"/>
<circle cx="1342.31" cy="1531.9" r="10.1"/>
<circle cx="1347.35" cy="1474.8" r="10.1"/>
<circle cx="1370.03" cy="1474.8" r="10.1"/>
<circle cx="1370.03" cy="1531.9" r="10.1"/>
<circle cx="1418.4" cy="1531.9" r="10.1"/>
<text x="756.5" y="1138.5" class="lt">f</text>
<line x1="178.8" y1="1876.9" x2="702.2" y2="2068.2" class="reg"/>
<line x1="178.8" y1="1735" x2="196.4" y2="1735" class="ax"/>
<text x="171.5" y="1745" class="tk" text-anchor="end" textLength="70" lengthAdjust="spacingAndGlyphs">0.20</text>
<line x1="178.8" y1="1818.5" x2="196.4" y2="1818.5" class="ax"/>
<text x="171.5" y="1828.5" class="tk" text-anchor="end" textLength="70" lengthAdjust="spacingAndGlyphs">0.15</text>
<line x1="178.8" y1="1901.9" x2="196.4" y2="1901.9" class="ax"/>
<text x="171.5" y="1911.9" class="tk" text-anchor="end" textLength="70" lengthAdjust="spacingAndGlyphs">0.10</text>
<line x1="178.8" y1="1985.4" x2="196.4" y2="1985.4" class="ax"/>
<text x="171.5" y="1995.4" class="tk" text-anchor="end" textLength="70" lengthAdjust="spacingAndGlyphs">0.05</text>
<line x1="178.8" y1="2068.8" x2="196.4" y2="2068.8" class="ax"/>
<text x="171.5" y="2078.8" class="tk" text-anchor="end" textLength="70" lengthAdjust="spacingAndGlyphs">0.00</text>
<line x1="257.4" y1="2084.6" x2="257.4" y2="2067" class="ax"/>
<text x="255.3" y="2121.3" class="tk" text-anchor="middle" textLength="52.8" lengthAdjust="spacingAndGlyphs">-10</text>
<line x1="358.12" y1="2084.6" x2="358.12" y2="2067" class="ax"/>
<text x="356.02" y="2121.3" class="tk" text-anchor="middle" textLength="33" lengthAdjust="spacingAndGlyphs">-8</text>
<line x1="458.84" y1="2084.6" x2="458.84" y2="2067" class="ax"/>
<text x="456.74" y="2121.3" class="tk" text-anchor="middle" textLength="33" lengthAdjust="spacingAndGlyphs">-6</text>
<line x1="559.56" y1="2084.6" x2="559.56" y2="2067" class="ax"/>
<text x="557.46" y="2121.3" class="tk" text-anchor="middle" textLength="33" lengthAdjust="spacingAndGlyphs">-4</text>
<line x1="660.28" y1="2084.6" x2="660.28" y2="2067" class="ax"/>
<text x="658.18" y="2121.3" class="tk" text-anchor="middle" textLength="33" lengthAdjust="spacingAndGlyphs">-2</text>
<rect x="178.8" y="1666.4" width="523.9" height="418.2" class="ax" fill="none"/>
<circle cx="198.98" cy="1722.4" r="10.1"/>
<circle cx="198.98" cy="1807.6" r="10.1"/>
<circle cx="198.98" cy="1825.2" r="10.1"/>
<circle cx="198.98" cy="1929.1" r="10.1"/>
<circle cx="332.94" cy="2068.8" r="10.1"/>
<circle cx="344.02" cy="2068.8" r="10.1"/>
<circle cx="384.8" cy="1681.2" r="10.1"/>
<circle cx="384.8" cy="1936.6" r="10.1"/>
<circle cx="387.4" cy="2037.5" r="10.1"/>
<circle cx="387.4" cy="2047.5" r="10.1"/>
<circle cx="384.8" cy="2068.8" r="10.1"/>
<circle cx="388.9" cy="2068.8" r="10.1"/>
<circle cx="400.42" cy="1882.4" r="10.1"/>
<circle cx="400.42" cy="2024.4" r="10.1"/>
<circle cx="423.59" cy="2068.8" r="10.1"/>
<circle cx="445.75" cy="1800.1" r="10.1"/>
<circle cx="445.75" cy="1848.8" r="10.1"/>
<circle cx="503.66" cy="1830.2" r="10.1"/>
<circle cx="503.66" cy="1905" r="10.1"/>
<circle cx="503.66" cy="2005.8" r="10.1"/>
<circle cx="503.66" cy="2019.4" r="10.1"/>
<circle cx="503.66" cy="2047.5" r="10.1"/>
<circle cx="503.66" cy="2068.8" r="10.1"/>
<circle cx="556.03" cy="1938.1" r="10.1"/>
<circle cx="556.03" cy="1975.7" r="10.1"/>
<circle cx="556.03" cy="1992.3" r="10.1"/>
<circle cx="556.03" cy="2014.4" r="10.1"/>
<circle cx="556.03" cy="2023.4" r="10.1"/>
<circle cx="556.03" cy="2047.5" r="10.1"/>
<circle cx="607.4" cy="2019.4" r="10.1"/>
<circle cx="612.44" cy="2019.4" r="10.1"/>
<circle cx="635.1" cy="1969.7" r="10.1"/>
<circle cx="635.1" cy="2068.8" r="10.1"/>
<circle cx="683.45" cy="2047" r="10.1"/>
<circle cx="683.45" cy="2068.8" r="10.1"/>
<text x="-0.1" y="1682.6" class="lt">g</text>
<line x1="911.7" y1="1894.1" x2="1435.3" y2="2018.4" class="reg"/>
<line x1="911.7" y1="1728" x2="929.3" y2="1728" class="ax"/>
<line x1="911.7" y1="1795.2" x2="929.3" y2="1795.2" class="ax"/>
<text x="907.4" y="1806.7" class="tk" text-anchor="end" textLength="70" lengthAdjust="spacingAndGlyphs">0.20</text>
<line x1="911.7" y1="1862.4" x2="929.3" y2="1862.4" class="ax"/>
<line x1="911.7" y1="1929.5" x2="929.3" y2="1929.5" class="ax"/>
<text x="907.4" y="1941" class="tk" text-anchor="end" textLength="70" lengthAdjust="spacingAndGlyphs">0.10</text>
<line x1="911.7" y1="1996.7" x2="929.3" y2="1996.7" class="ax"/>
<line x1="911.7" y1="2063.9" x2="929.3" y2="2063.9" class="ax"/>
<text x="907.4" y="2075.4" class="tk" text-anchor="end" textLength="70" lengthAdjust="spacingAndGlyphs">0.00</text>
<line x1="990.1" y1="2079.2" x2="990.1" y2="2061.6" class="ax"/>
<text x="988.5" y="2120" class="tk" text-anchor="middle" textLength="52.8" lengthAdjust="spacingAndGlyphs">-10</text>
<line x1="1090.88" y1="2079.2" x2="1090.88" y2="2061.6" class="ax"/>
<text x="1089.28" y="2120" class="tk" text-anchor="middle" textLength="33" lengthAdjust="spacingAndGlyphs">-8</text>
<line x1="1191.66" y1="2079.2" x2="1191.66" y2="2061.6" class="ax"/>
<text x="1190.06" y="2120" class="tk" text-anchor="middle" textLength="33" lengthAdjust="spacingAndGlyphs">-6</text>
<line x1="1292.44" y1="2079.2" x2="1292.44" y2="2061.6" class="ax"/>
<text x="1290.84" y="2120" class="tk" text-anchor="middle" textLength="33" lengthAdjust="spacingAndGlyphs">-4</text>
<line x1="1393.22" y1="2079.2" x2="1393.22" y2="2061.6" class="ax"/>
<text x="1391.62" y="2120" class="tk" text-anchor="middle" textLength="33" lengthAdjust="spacingAndGlyphs">-2</text>
<rect x="911.7" y="1661.2" width="523.6" height="418" class="ax" fill="none"/>
<circle cx="931.65" cy="1761" r="10.1"/>
<circle cx="931.65" cy="1800.1" r="10.1"/>
<circle cx="931.65" cy="1892.9" r="10.1"/>
<circle cx="931.65" cy="1952.2" r="10.1"/>
<circle cx="1065.68" cy="2027.4" r="10.1"/>
<circle cx="1076.77" cy="2038.5" r="10.1"/>
<circle cx="1119.8" cy="1675.7" r="10.1"/>
<circle cx="1117.3" cy="1964.7" r="10.1"/>
<circle cx="1119.8" cy="2012.4" r="10.1"/>
<circle cx="1117.3" cy="2021.9" r="10.1"/>
<circle cx="1117.3" cy="2028.4" r="10.1"/>
<circle cx="1119.8" cy="2046" r="10.1"/>
<circle cx="1119.8" cy="2063.9" r="10.1"/>
<circle cx="1133.21" cy="1790.1" r="10.1"/>
<circle cx="1133.21" cy="1992.3" r="10.1"/>
<circle cx="1156.39" cy="2007.3" r="10.1"/>
<circle cx="1178.56" cy="1867.9" r="10.1"/>
<circle cx="1178.56" cy="1938.1" r="10.1"/>
<circle cx="1236.51" cy="1937.1" r="10.1"/>
<circle cx="1236.51" cy="1952.2" r="10.1"/>
<circle cx="1236.51" cy="1963.2" r="10.1"/>
<circle cx="1236.51" cy="1981.8" r="10.1"/>
<circle cx="1236.51" cy="2007.3" r="10.1"/>
<circle cx="1236.51" cy="2013.4" r="10.1"/>
<circle cx="1236.51" cy="2027.4" r="10.1"/>
<circle cx="1236.51" cy="2063.9" r="10.1"/>
<circle cx="1288.91" cy="1800.1" r="10.1"/>
<circle cx="1288.91" cy="1886.9" r="10.1"/>
<circle cx="1288.91" cy="1924.1" r="10.1"/>
<circle cx="1288.91" cy="1966.2" r="10.1"/>
<circle cx="1288.91" cy="1987.3" r="10.1"/>
<circle cx="1288.91" cy="1993.3" r="10.1"/>
<circle cx="1288.91" cy="1999.3" r="10.1"/>
<circle cx="1340.31" cy="2046" r="10.1"/>
<circle cx="1345.35" cy="1986.3" r="10.1"/>
<circle cx="1368.03" cy="2009.4" r="10.1"/>
<circle cx="1368.03" cy="2023.4" r="10.1"/>
<circle cx="1416.4" cy="1979.8" r="10.1"/>
<circle cx="1416.4" cy="2027.4" r="10.1"/>
<text x="745" y="1691.7" class="lt">h</text>
</svg></body></html>
